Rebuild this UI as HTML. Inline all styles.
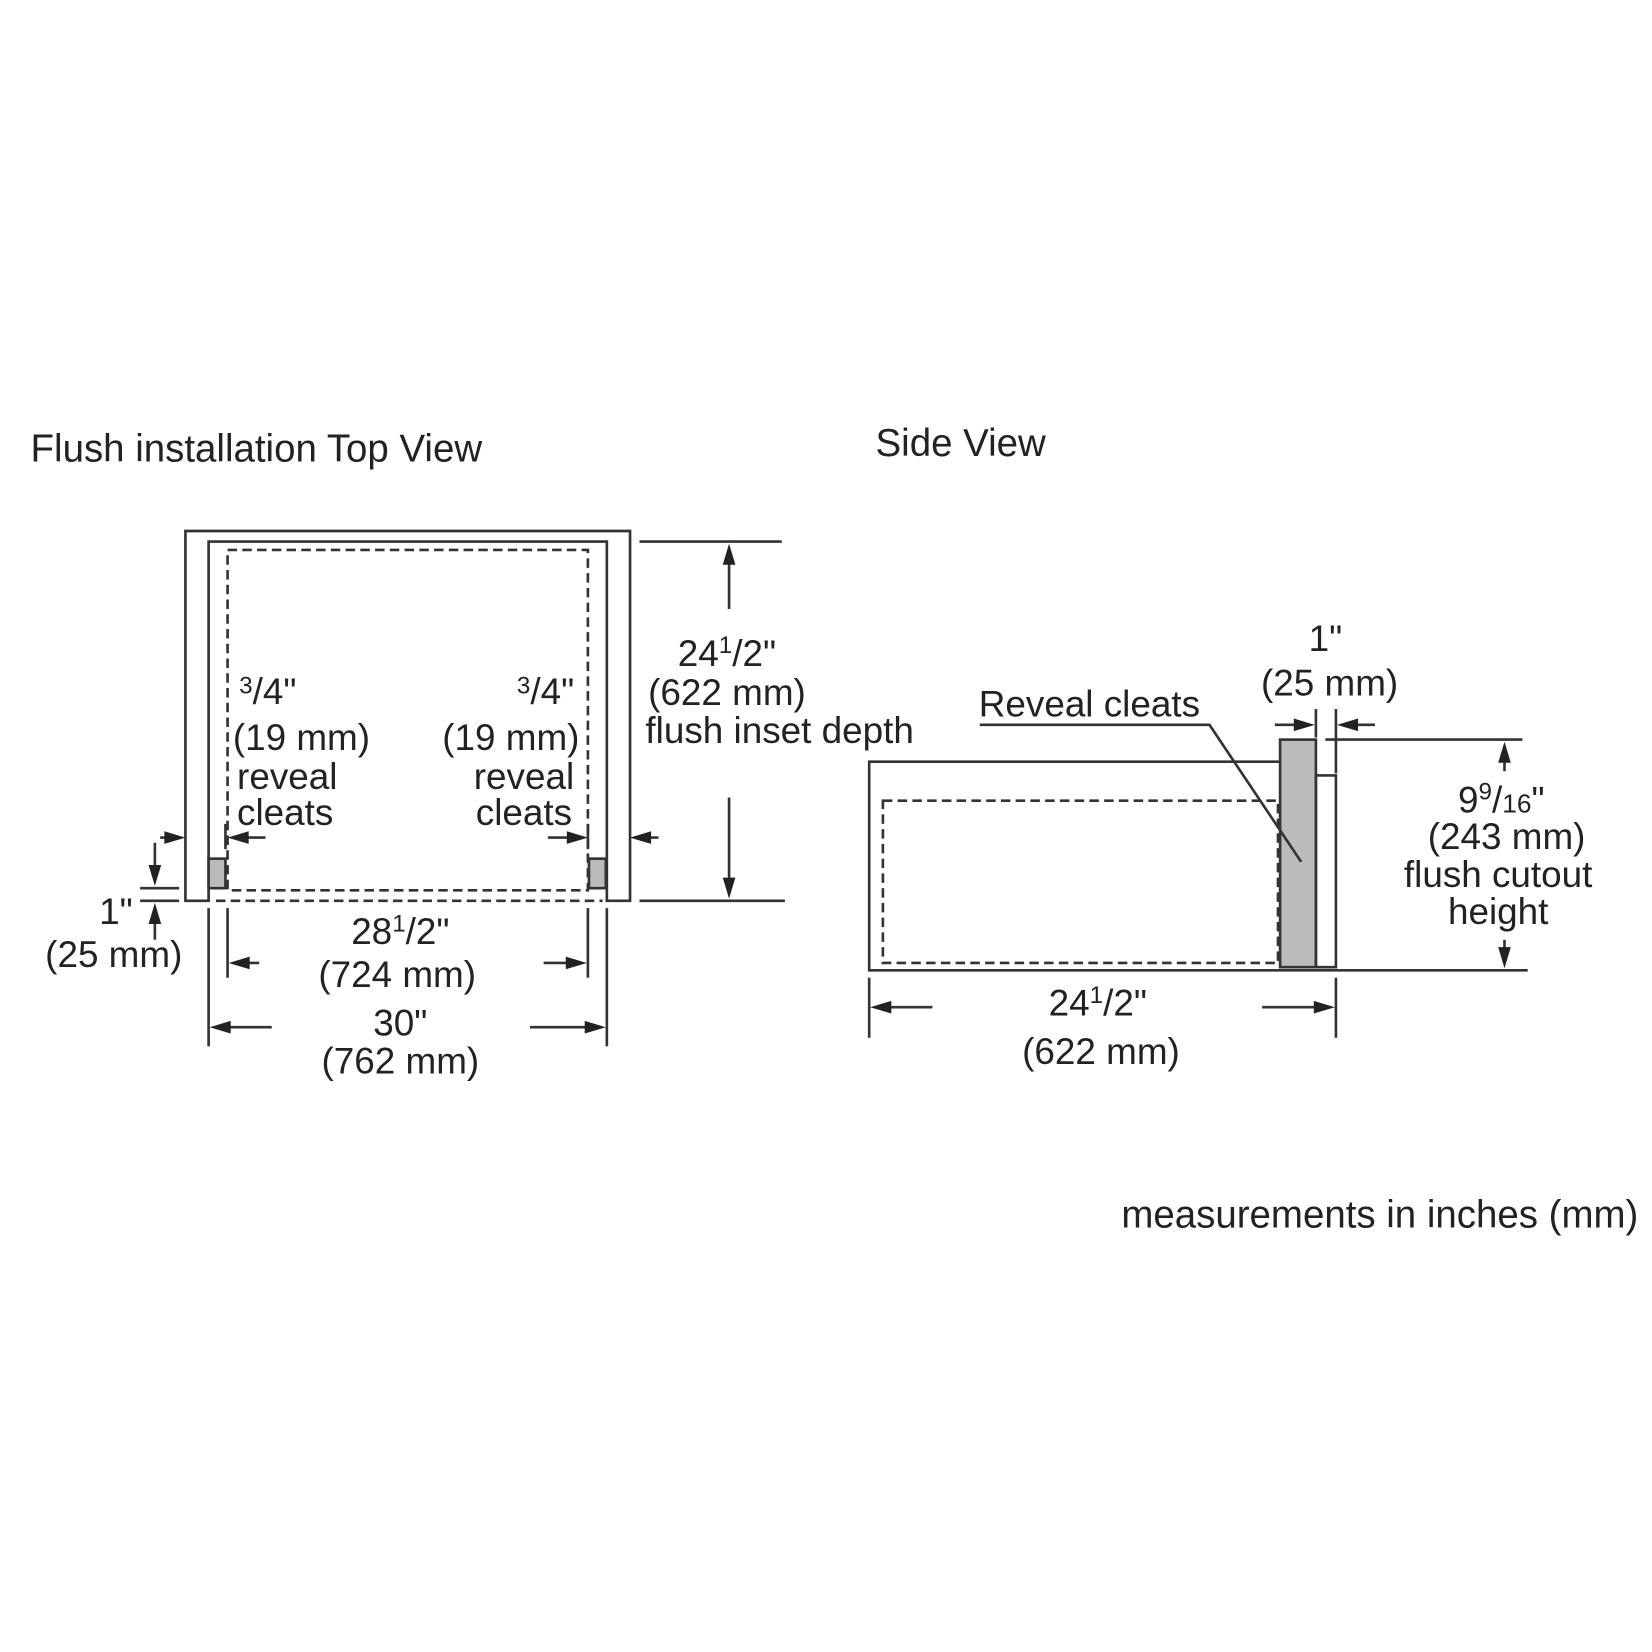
<!DOCTYPE html>
<html><head><style>html,body{margin:0;padding:0;background:#fff}svg{display:block}</style></head>
<body>
<svg width="1652" height="1652" viewBox="0 0 1568 1568" xmlns="http://www.w3.org/2000/svg" font-family="Liberation Sans, sans-serif" fill="#222">
<g font-size="36.5">
<text x="29" y="438">Flush installation Top View</text>
<text x="831" y="433">Side View</text>
<text x="1555" y="1165" text-anchor="end">measurements in inches (mm)</text>
</g>
<g stroke="#333" stroke-width="2.5" fill="none">
<path d="M176,855 V504 H598 V855 H576 V514 H198 V855 Z"/>
<rect x="216" y="522" width="342" height="323" stroke-dasharray="9,5"/>
<line x1="205" y1="855" x2="572" y2="855" stroke-dasharray="9,5"/>
<rect x="198" y="815" width="16" height="28" fill="#bbb"/>
<rect x="559" y="815" width="16" height="28" fill="#bbb"/>
<line x1="214" y1="782" x2="214" y2="806"/>
<line x1="558" y1="782" x2="558" y2="806"/>
<line x1="133" y1="843" x2="170" y2="843"/>
<line x1="133" y1="855" x2="170" y2="855"/>
<line x1="147" y1="800" x2="147" y2="830"/>
<line x1="147" y1="892" x2="147" y2="868"/>
<line x1="152" y1="795" x2="166" y2="795"/>
<line x1="252" y1="795" x2="226" y2="795"/>
<line x1="520" y1="795" x2="548" y2="795"/>
<line x1="625" y1="795" x2="608" y2="795"/>
<line x1="607" y1="514" x2="742" y2="514"/>
<line x1="607" y1="855" x2="745" y2="855"/>
<line x1="692" y1="578" x2="692" y2="526"/>
<line x1="692" y1="757" x2="692" y2="843"/>
<line x1="216" y1="862" x2="216" y2="928"/>
<line x1="558" y1="862" x2="558" y2="928"/>
<line x1="246" y1="914" x2="227" y2="914"/>
<line x1="516" y1="914" x2="547" y2="914"/>
<line x1="198" y1="862" x2="198" y2="993"/>
<line x1="576" y1="862" x2="576" y2="993"/>
<line x1="258" y1="975" x2="209" y2="975"/>
<line x1="503" y1="975" x2="565" y2="975"/>
<path d="M1215,723 H825 V921 H1268"/>
<rect x="838" y="760" width="375" height="154" stroke-dasharray="9,5"/>
<rect x="1215" y="702" width="34" height="216" fill="#bbb"/>
<rect x="1249" y="736" width="19" height="182"/>
<path d="M930,688 H1148 L1235,818"/>
<line x1="1249" y1="673" x2="1249" y2="700"/>
<line x1="1268" y1="673" x2="1268" y2="734"/>
<line x1="1210" y1="688" x2="1238" y2="688"/>
<line x1="1305" y1="688" x2="1279" y2="688"/>
<line x1="1258" y1="702" x2="1445" y2="702"/>
<line x1="1268" y1="921" x2="1450" y2="921"/>
<line x1="1428" y1="732" x2="1428" y2="714"/>
<line x1="1428" y1="892" x2="1428" y2="909"/>
<line x1="825" y1="928" x2="825" y2="985"/>
<line x1="1268" y1="928" x2="1268" y2="985"/>
<line x1="885" y1="956" x2="836" y2="956"/>
<line x1="1198" y1="956" x2="1257" y2="956"/>
</g>
<g fill="#222" stroke="none">
<polygon points="141,821 153,821 147,841"/>
<polygon points="141,877 153,877 147,857"/>
<polygon points="156,789 156,801 176,795"/>
<polygon points="236,789 236,801 216,795"/>
<polygon points="538,789 538,801 558,795"/>
<polygon points="618,789 618,801 598,795"/>
<polygon points="686,536 698,536 692,516"/>
<polygon points="686,833 698,833 692,853"/>
<polygon points="237,908 237,920 217,914"/>
<polygon points="537,908 537,920 557,914"/>
<polygon points="219,969 219,981 199,975"/>
<polygon points="555,969 555,981 575,975"/>
<polygon points="1228,682 1228,694 1248,688"/>
<polygon points="1289,682 1289,694 1269,688"/>
<polygon points="1422,724 1434,724 1428,704"/>
<polygon points="1422,899 1434,899 1428,919"/>
<polygon points="846,950 846,962 826,956"/>
<polygon points="1247,950 1247,962 1267,956"/>
</g>
<g font-size="35">
<text x="110" y="877" text-anchor="middle">1"</text>
<text x="108" y="918" text-anchor="middle">(25 mm)</text>
<text x="227" y="668"><tspan font-size="23" dy="-10">3</tspan><tspan dy="10">/4"</tspan></text>
<text x="221" y="712">(19 mm)</text>
<text x="225" y="749">reveal</text>
<text x="225" y="783">cleats</text>
<text x="545" y="668" text-anchor="end"><tspan font-size="23" dy="-10">3</tspan><tspan dy="10">/4"</tspan></text>
<text x="550" y="712" text-anchor="end">(19 mm)</text>
<text x="545" y="749" text-anchor="end">reveal</text>
<text x="543" y="783" text-anchor="end">cleats</text>
<text x="690" y="632" text-anchor="middle">24<tspan font-size="23" dy="-12">1</tspan><tspan dy="12">/2"</tspan></text>
<text x="690" y="669" text-anchor="middle">(622 mm)</text>
<text x="740" y="705" text-anchor="middle">flush inset depth</text>
<text x="380" y="896" text-anchor="middle">28<tspan font-size="23" dy="-12">1</tspan><tspan dy="12">/2"</tspan></text>
<text x="377" y="937" text-anchor="middle">(724 mm)</text>
<text x="380" y="983" text-anchor="middle">30"</text>
<text x="380" y="1019" text-anchor="middle">(762 mm)</text>
<text x="929" y="680">Reveal cleats</text>
<text x="1258" y="618" text-anchor="middle">1"</text>
<text x="1262" y="660" text-anchor="middle">(25 mm)</text>
<text x="1425" y="771" text-anchor="middle">9<tspan font-size="23" dy="-12">9</tspan><tspan dy="12">/</tspan><tspan font-size="25">16</tspan>"</text>
<text x="1430" y="806" text-anchor="middle">(243 mm)</text>
<text x="1422" y="842" text-anchor="middle">flush cutout</text>
<text x="1422" y="877" text-anchor="middle">height</text>
<text x="1042" y="964" text-anchor="middle">24<tspan font-size="23" dy="-12">1</tspan><tspan dy="12">/2"</tspan></text>
<text x="1045" y="1010" text-anchor="middle">(622 mm)</text>
</g>
</svg>
</body></html>
